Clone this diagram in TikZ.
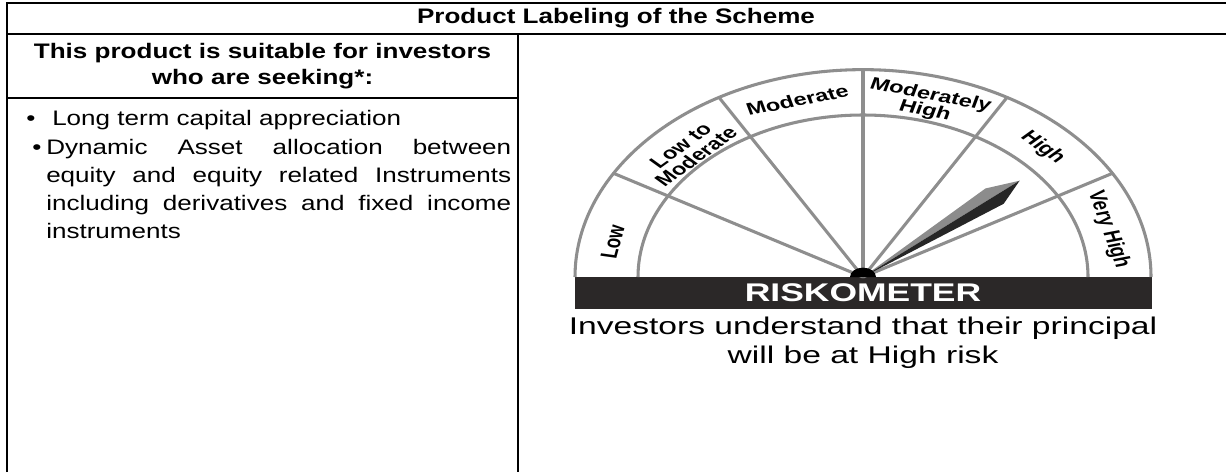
\documentclass[tikz,border=0pt]{standalone}
\usepackage{fontspec}
\usepackage{xcolor}
\setmainfont{Liberation Sans}[FakeStretch=1.24]
\newfontfamily\meterfont{Liberation Sans}
\definecolor{spokegray}{HTML}{8E8E8E}
\definecolor{barblack}{HTML}{2B2828}
\definecolor{needlegray}{HTML}{8C8C8C}
\definecolor{needledark}{HTML}{262626}

\begin{document}
\begin{tikzpicture}[x=0.75pt,y=0.75pt,
    tablerule/.style={line width=1.5pt},
    spoke/.style={spokegray,line width=2.3pt},
    bandlabel/.style={font=\meterfont\bfseries\fontsize{17.7}{16.5}\selectfont,align=center,inner sep=0pt},
    bodytext/.style={font=\fontsize{15.75}{21}\selectfont,inner sep=0pt,anchor=base west}]
    \useasboundingbox (0,0) rectangle (1226,-472);
    \draw[tablerule] (7,-472) -- (7,-3) -- (1226,-3);
    \draw[tablerule] (7,-34) -- (1226,-34);
    \draw[tablerule] (518,-34) -- (518,-472);
    \draw[tablerule] (7,-98) -- (518,-98);
    \node[font=\bfseries\fontsize{15.75}{18}\selectfont] (title) at (616,-18.5) {Product Labeling of the Scheme};
    \node[font=\bfseries\fontsize{15.75}{19.5}\selectfont,align=center] (seeking) at (262.5,-66) {This product is suitable for investors\\who are seeking*:};
    \node[bodytext] (dot1) at (26,-125.5) {\textbullet};
    \node[bodytext] (item1) at (52,-125.5) {Long term capital appreciation};
    \node[bodytext] (dot2) at (32,-154.5) {\textbullet};
    \node[bodytext] (item2a) at (46,-154.5) {\makebox[348.75pt][s]{Dynamic Asset allocation between}};
    \node[bodytext] (item2b) at (46,-182.5) {\makebox[348.75pt][s]{equity and equity related Instruments}};
    \node[bodytext] (item2c) at (46,-210.5) {\makebox[348.75pt][s]{including derivatives and fixed income}};
    \node[bodytext] (item2d) at (46,-238.5) {instruments};
    \begin{scope}[shift={(863,-277)},yscale=0.72,transform shape]
        \fill[barblack] (-288,0) rectangle (289,-44);
        \node[text=white,font=\meterfont\bfseries\fontsize{26.6}{30}\selectfont] (meter) at (0,-22) {RISKOMETER};
        \draw[spoke] (288,0) arc[start angle=0,end angle=180,radius=288];
        \draw[spoke] (225,0) arc[start angle=0,end angle=180,radius=225];
        \foreach \a in {30,60,...,150}
            \draw[spoke] (0,0) -- (\a:288);
        \begin{scope}[rotate=40.5]
            \fill[needlegray] (0,0) -- (173,14) -- (206,0) -- cycle;
            \fill[needledark] (0,0) -- (173,-14) -- (206,0) -- cycle;
        \end{scope}
        \fill[black] (13,0) arc[start angle=0,end angle=180,radius=13] -- cycle;
        \node[bandlabel,rotate=79] (low) at (169:255) {Low};
        \node[bandlabel,rotate=45] (lowmod) at (135:247) {Low to\\Moderate};
        \node[bandlabel,rotate=15] (mod) at (105:254) {Moderate};
        \node[bandlabel,rotate=-15] (modhigh) at (75:250) {Moderately\\High};
        \node[bandlabel,rotate=-45] (high) at (45:254) {High};
        \node[bandlabel,rotate=-75] (vhigh) at (15:254) {Very High};
        \node[font=\meterfont\fontsize{25.2}{28}\selectfont] (note1) at (0,-71) {Investors understand that their principal};
        \node[font=\meterfont\fontsize{25.2}{28}\selectfont] (note2) at (0,-111) {will be at High risk};
    \end{scope}
\end{tikzpicture}
\end{document}
